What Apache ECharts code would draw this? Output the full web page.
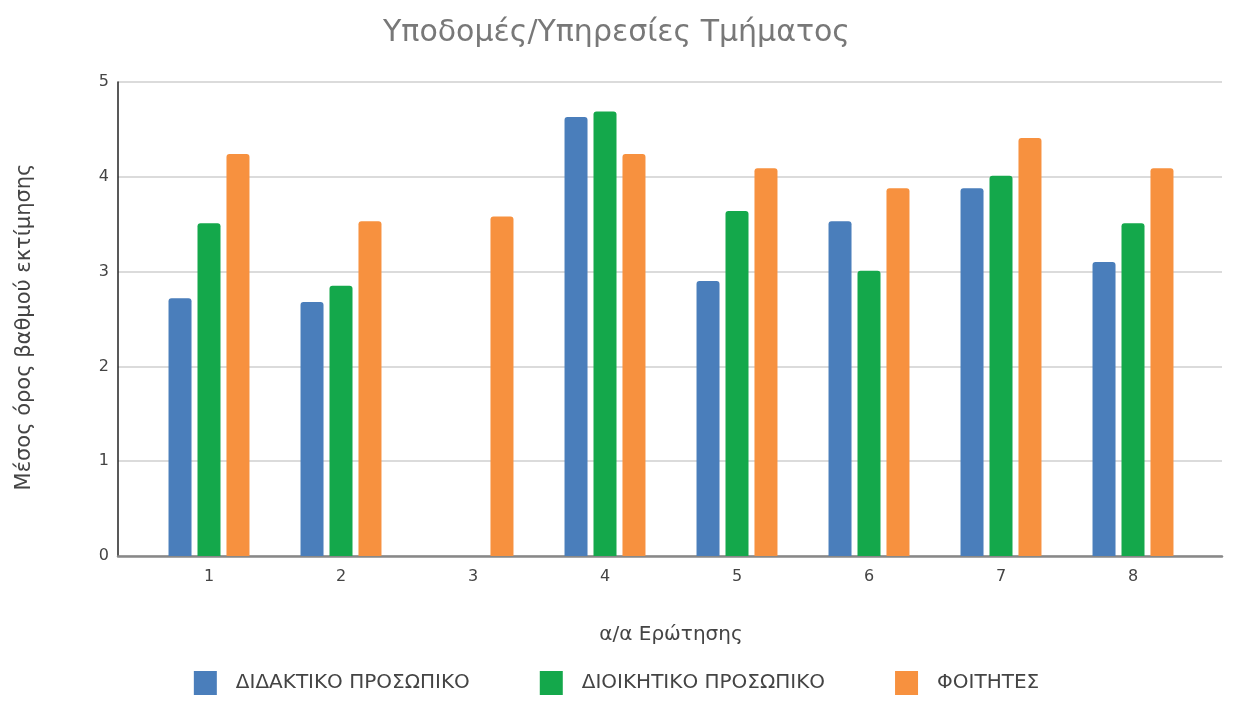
<!DOCTYPE html>
<html>
<head>
<meta charset="utf-8">
<script src="https://cdn.jsdelivr.net/npm/echarts@6/dist/echarts.min.js"></script>
<style>html,body{margin:0;padding:0;background:#fff}#c{width:1233px;height:704px}</style>
</head>
<body>
<div id="c"></div>
<script>
var categories = ['1','2','3','4','5','6','7','8'];
var seriesNames = ['ΔΙΔΑΚΤΙΚΟ ΠΡΟΣΩΠΙΚΟ','ΔΙΟΙΚΗΤΙΚΟ ΠΡΟΣΩΠΙΚΟ','ΦΟΙΤΗΤΕΣ'];
var didaktiko = [2.72, 2.68, null, 4.63, 2.90, 3.53, 3.88, 3.10];
var dioikitiko = [3.51, 2.85, null, 4.69, 3.64, 3.01, 4.01, 3.51];
var foitites = [4.24, 3.53, 3.58, 4.24, 4.09, 3.88, 4.41, 4.09];
var yTicks = [0,1,2,3,4,5];
var colors = ['#4a7ebb','#14a84b','#f7913f'];
var FONT = 'DejaVu Sans, Verdana, sans-serif';

var chart = echarts.init(document.getElementById('c'));
var gridTop = 82, gridBottom = 148;
chart.setOption({
  animation: false,
  color: colors,
  title: {
    text: 'Υποδομές/Υπηρεσίες Τμήματος',
    left: 'center', top: 13,
    textStyle: {fontFamily: FONT, fontSize: 30, fontWeight: 'normal', color: '#787878'}
  },
  legend: {
    bottom: 4, left: 'center',
    itemWidth: 23, itemHeight: 24, itemGap: 70,
    icon: 'rect',
    textStyle: {fontFamily: FONT, fontSize: 20, color: '#444', padding: [0,0,0,14]},
    data: seriesNames
  },
  grid: [
    {left: 118, right: 11, top: gridTop, bottom: gridBottom},
    {left: 143, right: 34, top: gridTop, bottom: gridBottom}
  ],
  xAxis: [
    {type: 'value', gridIndex: 0, min: 0, max: 1, show: true,
     axisLine: {show: true, onZero: false, lineStyle: {color: '#888', width: 2.5}},
     axisTick: {show: false}, axisLabel: {show: false}, splitLine: {show: false}},
    {type: 'category', gridIndex: 1, data: categories,
     name: 'α/α Ερώτησης', nameLocation: 'middle', nameGap: 69,
     nameTextStyle: {fontFamily: FONT, fontSize: 20, color: '#444'},
     axisLine: {show: false}, axisTick: {show: false},
     axisLabel: {fontFamily: FONT, fontSize: 16, color: '#444', margin: 13}}
  ],
  yAxis: [
    {type: 'value', gridIndex: 0, min: 0, max: 5, interval: 1,
     name: 'Μέσος όρος βαθμού εκτίμησης', nameLocation: 'middle', nameGap: 83,
     nameTextStyle: {fontFamily: FONT, fontSize: 21, color: '#444', padding: [0,16,0,0]},
     axisLine: {show: true, lineStyle: {color: '#222', width: 1.5}},
     axisTick: {show: false},
     axisLabel: {fontFamily: FONT, fontSize: 16, color: '#444', margin: 9,
       formatter: function(v){ return yTicks.indexOf(v) >= 0 ? String(v) : ''; }},
     splitLine: {show: true, lineStyle: {color: '#cfcfcf', width: 1.5}}},
    {type: 'value', gridIndex: 1, min: 0, max: 5, interval: 1, show: false,
     splitLine: {show: false}}
  ],
  series: [
    {name: seriesNames[0], type: 'bar', xAxisIndex: 1, yAxisIndex: 1, data: didaktiko,
     barWidth: 23, barGap: '26%', itemStyle: {borderRadius: [3,3,0,0]}},
    {name: seriesNames[1], type: 'bar', xAxisIndex: 1, yAxisIndex: 1, data: dioikitiko,
     barWidth: 23, barGap: '26%', itemStyle: {borderRadius: [3,3,0,0]}},
    {name: seriesNames[2], type: 'bar', xAxisIndex: 1, yAxisIndex: 1, data: foitites,
     barWidth: 23, barGap: '26%', itemStyle: {borderRadius: [3,3,0,0]}}
  ]
});
</script>
</body>
</html>
